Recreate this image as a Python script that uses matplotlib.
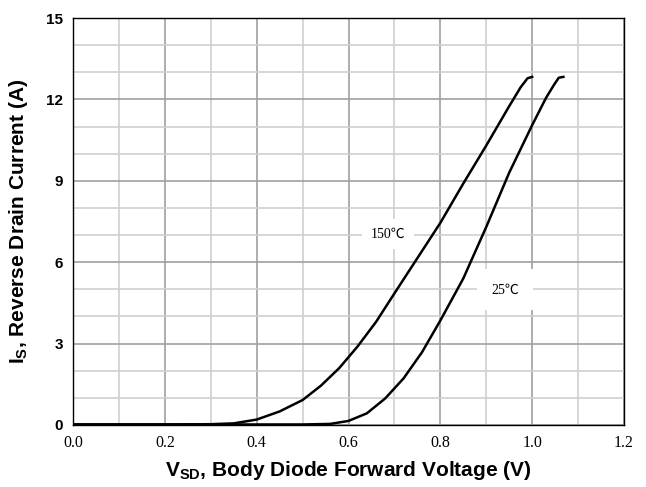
import matplotlib
matplotlib.use("Agg")
import matplotlib.pyplot as plt
from matplotlib.ticker import MultipleLocator

plt.rcParams['mathtext.fontset'] = 'custom'
plt.rcParams['mathtext.rm'] = 'Liberation Sans:bold'
plt.rcParams['mathtext.default'] = 'rm'

# Data
v_150 = [0.0, 0.10, 0.20, 0.30, 0.35, 0.40, 0.45, 0.50, 0.54, 0.58, 0.62, 0.66, 0.70, 0.75,
         0.80, 0.85, 0.90, 0.95, 0.975, 0.99, 1.0]
i_150 = [0.02, 0.02, 0.02, 0.03, 0.06, 0.2, 0.5, 0.92, 1.45, 2.1, 2.9, 3.8, 4.85, 6.15,
         7.45, 8.9, 10.3, 11.75, 12.45, 12.78, 12.83]
v_25 = [0.0, 0.20, 0.40, 0.50, 0.56, 0.60, 0.64, 0.68, 0.72, 0.76, 0.80, 0.85, 0.90,
        0.95, 1.00, 1.03, 1.048, 1.058, 1.068]
i_25 = [0.02, 0.02, 0.02, 0.02, 0.04, 0.15, 0.43, 0.98, 1.72, 2.68, 3.85, 5.4, 7.3,
        9.3, 11.05, 12.05, 12.55, 12.8, 12.83]
label_150 = "150℃"
label_25 = "25℃"
x_ticks = [0.0, 0.2, 0.4, 0.6, 0.8, 1.0, 1.2]
x_tick_labels = ["0.0", "0.2", "0.4", "0.6", "0.8", "1.0", "1.2"]
y_ticks = [0, 3, 6, 9, 12, 15]
y_tick_labels = ["0", "3", "6", "9", "12", "15"]

fig = plt.figure(figsize=(6.46, 4.87), dpi=100)
ax = fig.add_axes([73/646, (487-425)/487, (624-73)/646, (425-18)/487])

ax.set_xlim(0, 1.2)
ax.set_ylim(0, 15)
ax.xaxis.set_minor_locator(MultipleLocator(0.1))
ax.yaxis.set_minor_locator(MultipleLocator(1))
ax.grid(which='minor', color='#d0d0d0', linewidth=1.2)
ax.grid(which='major', color='#a0a0a0', linewidth=1.2)
ax.set_axisbelow(True)
ax.set_xticks(x_ticks)
ax.set_xticklabels(x_tick_labels, fontfamily='Liberation Serif', fontsize=11.5)
ax.set_yticks(y_ticks)
ax.set_yticklabels(y_tick_labels, fontfamily='Liberation Sans', fontweight='bold', fontsize=11)
ax.tick_params(which='both', length=0, pad=7)
for s in ax.spines.values():
    s.set_color('black')
    s.set_linewidth(1.0)

ax.plot(v_150, i_150, color='black', linewidth=1.8, zorder=3)
ax.plot(v_25, i_25, color='black', linewidth=1.8, zorder=3)

ax.text(0.686, 7.04, label_150, fontfamily=['Liberation Serif', 'Noto Sans CJK SC', 'DejaVu Sans'],
        fontsize=10, ha='center', va='center', zorder=2,
        bbox=dict(facecolor='white', edgecolor='none', pad=6))
ax.text(0.941, 4.98, label_25, fontfamily=['Liberation Serif', 'Noto Sans CJK SC', 'DejaVu Sans'],
        fontsize=10, ha='center', va='center', zorder=2,
        bbox=dict(facecolor='white', edgecolor='none', pad=10))

ax.set_xlabel(r"V$_{\mathrm{SD}}$, Body Diode Forward Voltage (V)", fontfamily='Liberation Sans',
              fontweight='bold', fontsize=15, labelpad=6)
ax.set_ylabel(r"I$_{\mathrm{S}}$, Reverse Drain Current (A)", fontfamily='Liberation Sans',
              fontweight='bold', fontsize=15, labelpad=12)

fig.savefig("out.png", dpi=100)
